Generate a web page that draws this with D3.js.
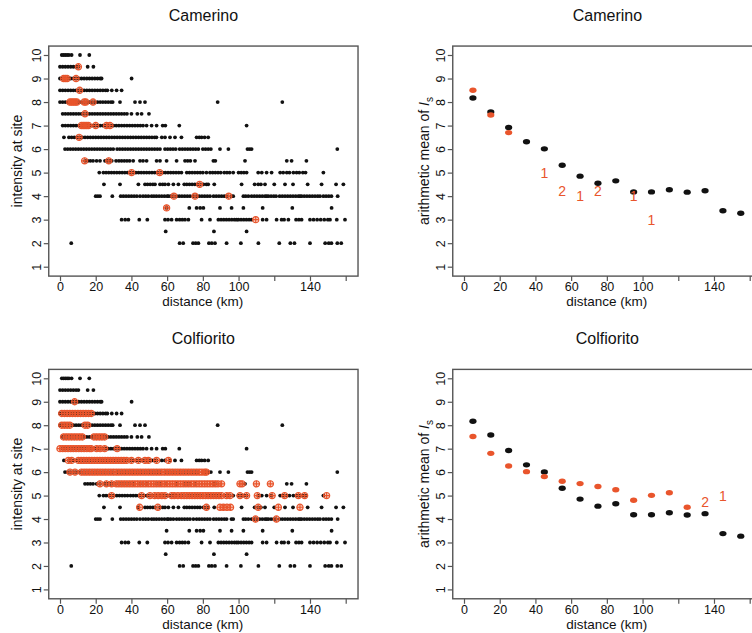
<!DOCTYPE html>
<html><head><meta charset="utf-8">
<script src="https://cdn.jsdelivr.net/npm/d3@7"></script>
<style>
body{margin:0;background:#fff;}
text{font-family:"Liberation Sans",Arial,Helvetica,sans-serif;fill:#111;}
</style>
</head><body>
<svg id="c" width="752" height="633"></svg>
<script>
// ---------------- DATA ----------------
const intensityTicks = [1,2,3,4,5,6,7,8,9,10];
const distanceTicks = [0,20,40,60,80,100,120,140,160];
const distanceLabels = ["0","20","40","60","80","100","","140",""];

// all observed sites: distances (km) per intensity level (black dots)
const sitesI10 = [1,2,3,4,5,6.5,11.2,16.4];
const sitesI9_5 = [0,1.5,3,4.5,6,7.5,9,10.3,15.5,18.7];
const sitesI9 = [0,1.5,3,4.5,6,7.5,9,10.5,12,13.5,15,16.5,18,19.5,21,22.5,23.3,40.1];
const sitesI8_5 = [0,1.5,3,4.5,6,7.5,9,10.5,12,13.5,15,16.5,18,19.5,21,22.5,24,25.5,26.5,29,31.7,34.5];
const sitesI8 = [0,1.5,3,4.5,6,7.5,9,10.5,12,13.5,15,16.5,18,19.5,21,22.5,24,25.5,27,28.5,29.5,33.6,42,44.8,47.6,88.3,124.5];
const sitesI7_5 = [1.5,3,4.5,6,7.5,9,10.5,12,13.5,15,16.5,18,19.5,21,22.5,24,25.5,27,28.5,30,31.5,33,34.5,36,37.5,40,43.3,45.7,49.8];
const sitesI7 = [1.5,3,4.5,6,7.5,9,10.5,12,13.5,15,16.5,18,19.5,21,22.5,24,25.5,27,28.5,30,31.5,33,34.5,36,37.5,39,40.5,42,43.5,45,46.5,48.5,51.3,54.1,57.5,59,66.8,104.5];
const sitesI6_5 = [2.2,5,6.5,8,9.5,11,12.5,14,15.5,17,18.5,20,21.5,23,24.5,26,27.5,29,30.5,32,33.5,35,36.5,38,39.5,41,42.5,44,45.5,47,48.5,50,51.5,53,54,57,58.8,61.6,64.4,68,76.5,78,79.3,81,83];
const sitesI6 = [2.8,4.3,5.8,7.3,8.8,10.3,11.8,13.3,14.8,16.3,17.8,19.3,20.8,22.3,23.8,25.3,26.8,28.3,29.8,32,33.5,35,36.5,38,39.5,41,42.5,44,45.5,47,48.5,50,51.5,53,54.5,56,58.8,60.3,61.8,63.3,64.8,67,68.5,70,71.5,73,74.5,76,77.5,80,81.5,83,84.5,89.6,94.3,105,106.2,107.3,155.3];
const sitesI5_5 = [14,15.5,17,18.5,20.5,22.4,25.2,26.5,28,29,31.4,33,34.5,36,37.5,39,41,44.8,46.5,48.5,54.1,56,59.7,65.3,70,71.5,73,75.6,85.9,87,103.6,127,129.7,138];
const sitesI5 = [22,24.3,25.8,27.3,28.8,30.3,31.8,33.3,34.8,36.3,37.8,39.5,41,42.5,44,45.5,47,48.5,50,51.5,53,54.5,56,57.5,59,60.5,62,63.5,65,66.5,68,71,72.5,74,75.5,77,78.5,80,82,84,85.5,87,88.5,90,92,93.5,95,97,100,101.5,103,104.5,111,113,115.7,118.5,123.3,125,127,128.5,130.7,132.5,134,136,137.5,147.5];
const sitesI4_5 = [24.6,33.6,43.9,47.6,49,50.5,52,53.2,56,57.5,58.8,60.7,63.5,66.3,69.6,71,72.5,74,75.5,77,78.4,80.3,82,83,86.4,101.7,109,111,112.5,114.8,120,126,130.5,138.7,146.5,154.6,158.7];
const sitesI4 = [20,21.2,22.4,29.3,34,35.5,37,38.5,40,41.5,43,44.8,46.5,48,49.5,51.3,52.6,54,55.5,57,58.5,60,60.7,62,63.5,65.3,66.8,68.3,69.8,71.3,72.8,74.7,76.5,78,79.5,81,82.5,84,86,87.5,89,90.5,92,93.3,96,97,102.7,104,105.5,107.3,108.8,110.3,111.8,113.3,114.8,115.7,116.7,118.2,119.7,121,123,124.5,126,127.5,129,130.5,132,133.5,134.4,135.3,136.8,138.3,139.8,141.3,142.8,144.3,145.6,147.5,149,150.5,152,155.5];
const sitesI3_5 = [59.7,72.4,76.5,78.5,80.3,89.6,96.1,102.7,113.5,130.1,152.1];
const sitesI3 = [34.5,36.5,38.3,44.4,48.9,58.8,60.5,62.5,65.3,67,68.5,70,71.9,79.3,84,88.7,90.2,91.7,93.2,94.7,96.2,97.7,98.9,99.9,101.4,102.9,104.4,105.9,107.3,113.5,115.7,121.3,124.1,125.5,127.9,132.2,133.8,135.3,140,142,144,146,148,150,151.2,155,159.6];
const sitesI2_5 = [59.2,86.2,104.5];
const sitesI2 = [6.3,67,69,74.5,76,77.5,83.4,85,86.8,93.3,101.3,111.1,122.8,129,131.3,140,148.5,150.5,152,155.3,157.5];

const levels = [10,9.5,9,8.5,8,7.5,7,6.5,6,5.5,5,4.5,4,3.5,3,2.5,2];
const siteRows = [sitesI10,sitesI9_5,sitesI9,sitesI8_5,sitesI8,sitesI7_5,sitesI7,sitesI6_5,sitesI6,sitesI5_5,sitesI5,sitesI4_5,sitesI4,sitesI3_5,sitesI3,sitesI2_5,sitesI2];

// Camerino event sites (red)
const camLevels = [9.5,9,8.5,8,7.5,7,6.5,5.5,5,4.5,4,3.5,3];
const camRows = [
  [10.3],
  [2,3,4,9],
  [11],
  [5.5,6.5,7.5,8.5,9.5,13.5,14.5,18.5],
  [14],
  [12,13,14,15,16,20,26,28],
  [10.7],
  [13.8,27.3],
  [40.1,55.8],
  [78.2],
  [63.8,75.6,94.5],
  [59.7],
  [109.6]
];

// Colfiorito event sites (red)
const colLevels = [9,8.5,8,7.5,7,6.5,6,5.5,5,4.5,4];
const colI9 = [8.2];
const colI8_5 = [1,2.5,4,5.5,7,8.5,10,11.5,13,14.5,16,17.5];
const colI8 = [1,2.5,4,5.5,14,15.5];
const colI7_5 = [2,3.5,5,6.5,8,9.5,11,12.5,19,20.5,22,23.5,25];
const colI7 = [0,1.5,3,4.5,6,7.5,9,10.5,12,13.5,15,16.5,17.5,20.5,22.5,25,32];
const colI6_5 = [4.7,6.5,10.3,11.8,13.3,14.8,16.3,17.8,19.3,20.8,22.3,23.8,25.3,26.8,28.3,29.8,31.3,32.8,34.3,35.8,37.3,40,43.9,47.6,49.5,54.1,60.7];
const colI6 = [5.6,8.4,12,13.5,15,16.5,18,19.5,21,22.5,24,25.5,27,28.5,30,31.5,33,34.5,36,37.5,39,40.5,42,43.5,45,46.5,48,49.5,51,52.5,54,55.5,57,58.5,60,61.5,63,64.5,66,67.5,69,70.5,72,73.5,75,76.5,78,79.5,81,82];
const colI5_5 = [22.4,26,28.9,31.5,33,34.5,36,37.5,39,40.5,42,43.5,45,46.5,48,49.5,51,52.5,54,55.5,57,58.5,60,61.5,63,64.5,66,67.5,69,70.5,72,73.5,75,76.5,78,79.5,81,82.5,84,85.5,87,88.5,90.5,100.8,102,110,117.8];
const colI5 = [28.9,45.7,50.4,53,55,57,58.8,62.5,64,66,68,69.5,71,72.5,74,75.5,77,78.5,80,81.5,83,84.5,86,87.5,89,90.5,93.3,95.2,100.8,104.5,110.5,118.8,125.8,133.5,137,149.3];
const colI4_5 = [44.6,54.8,82,89.6,91.5,93.5,95.5,111,122.3,134.4];
const colI4 = [109.5,121.2];
const colRows = [colI9,colI8_5,colI8,colI7_5,colI7,colI6_5,colI6,colI5_5,colI5,colI4_5,colI4];

// Arithmetic means per 10-km bin
const binCenters = [5,15,25,35,45,55,65,75,85,95,105,115,125,135,145,155];
const meanAll = [8.17,7.58,6.92,6.31,6.01,5.31,4.85,4.55,4.65,4.18,4.18,4.27,4.17,4.23,3.38,3.27];
const camMeanBins = [5,15,25];
const camMean = [8.5,7.45,6.7];
const camLabelBins = [45,55,65,75,95,105];
const camLabelVals = [4.98,4.23,3.99,4.23,3.99,2.99];
const camLabelText = ["1","2","1","2","1","1"];
const colMeanBins = [5,15,25,35,45,55,65,75,85,95,105,115,125];
const colMean = [7.52,6.8,6.26,6.02,5.81,5.61,5.51,5.39,5.25,4.80,5.01,5.12,4.50];
const colLabelBins = [135,145];
const colLabelVals = [4.74,5.0];
const colLabelText = ["2","1"];

// ---------------- DRAWING ----------------
const RED = "#e9552c";
const BLACK = "#111";
const AXIS = "#555";
const svg = d3.select("#c");

function makePanel(cfg){
  const x = d3.scaleLinear().domain([0,160]).range([cfg.x0, cfg.x0 + 285.7]);
  const y = d3.scaleLinear().domain([1,10]).range([cfg.y1, cfg.y10]);
  const box = {l: x(-6.3), r: x(166.9), t: y(10.38), b: y(0.6)};
  const g = svg.append("g");
  g.append("text").attr("x",(box.l+box.r)/2).attr("y",box.t-25)
    .attr("text-anchor","middle").style("font-size","16px").text(cfg.title);
  const xa = g.append("g").attr("transform",`translate(0,${box.b})`)
    .call(d3.axisBottom(x).tickValues(distanceTicks).tickSize(5).tickPadding(1.5)
      .tickFormat((d,i)=>distanceLabels[i]));
  xa.select(".domain").remove();
  xa.selectAll("line").attr("stroke",AXIS).attr("stroke-width",1.2);
  xa.selectAll("text").style("font-size","12.5px").attr("fill","#111");
  const ya = g.append("g").attr("transform",`translate(${box.l},0)`)
    .call(d3.axisLeft(y).tickValues(intensityTicks).tickSize(5).tickFormat(d3.format("d")));
  ya.select(".domain").remove();
  ya.selectAll("line").attr("stroke",AXIS).attr("stroke-width",1.2);
  ya.selectAll("text").style("font-size","12.5px").attr("fill","#111")
    .attr("x",null).attr("dy",null).attr("text-anchor","middle")
    .attr("transform","translate(-8,0) rotate(-90)");
  g.append("text").attr("x",(x(0)+x(160))/2).attr("y",box.b+30)
    .attr("text-anchor","middle").style("font-size","13.5px").text("distance (km)");
  const yt = g.append("text")
    .attr("transform",`translate(${box.l-cfg.ytOff},${(box.t+box.b)/2}) rotate(-90)`)
    .attr("text-anchor","middle").style("font-size","14px");
  if(cfg.meanLabel){
    yt.append("tspan").text("arithmetic mean of ");
    yt.append("tspan").style("font-style","italic").text("I");
    yt.append("tspan").attr("dy",4).style("font-size","10px").text("s");
  } else {
    yt.text("intensity at site");
  }
  const p = g.append("g");
  g.append("rect").attr("x",box.l).attr("y",box.t)
    .attr("width",box.r-box.l).attr("height",box.b-box.t)
    .attr("fill","none").attr("stroke",AXIS).attr("stroke-width",1.4);
  return {x, y, p, box};
}

function drawScatter(P, rowsRed, levelsRed){
  const pts = [];
  levels.forEach((lv,i)=>siteRows[i].forEach(d=>pts.push([d,lv])));
  P.p.selectAll("circle.b").data(pts).join("circle").attr("class","b")
    .attr("cx",d=>P.x(d[0])).attr("cy",d=>P.y(d[1])).attr("r",1.9).attr("fill",BLACK);
  const red = [];
  levelsRed.forEach((lv,i)=>rowsRed[i].forEach(d=>red.push([d,lv])));
  const rg = P.p.selectAll("g.r").data(red).join("g").attr("class","r")
    .attr("transform",d=>`translate(${P.x(d[0])},${P.y(d[1])})`);
  rg.append("circle").attr("r",3.1).attr("fill","rgba(233,85,44,0.3)")
    .attr("stroke",RED).attr("stroke-width",1.2);
  rg.append("path").attr("d","M-3.1,0H3.1M0,-3.1V3.1").attr("stroke",RED).attr("stroke-width",1.1);
}

function drawMeans(P, redBins, redVals, lblBins, lblVals, lblText){
  P.p.selectAll("ellipse.b").data(binCenters).join("ellipse").attr("class","b")
    .attr("cx",d=>P.x(d)).attr("cy",(d,i)=>P.y(meanAll[i])).attr("rx",3.6).attr("ry",2.7).attr("fill",BLACK);
  P.p.selectAll("ellipse.r").data(redBins).join("ellipse").attr("class","r")
    .attr("cx",d=>P.x(d)).attr("cy",(d,i)=>P.y(redVals[i])).attr("rx",3.6).attr("ry",2.7).attr("fill",RED);
  P.p.selectAll("text.l").data(lblBins).join("text").attr("class","l")
    .attr("x",d=>P.x(d)).attr("y",(d,i)=>P.y(lblVals[i])+5)
    .attr("text-anchor","middle").style("font-size","14px").style("fill",RED)
    .text((d,i)=>lblText[i]);
}

const TL = makePanel({title:"Camerino", x0:60, y1:266.7, y10:55, ytOff:27});
drawScatter(TL, camRows, camLevels);
const TR = makePanel({title:"Camerino", x0:464, y1:266.7, y10:55, ytOff:24, meanLabel:true});
drawMeans(TR, camMeanBins, camMean, camLabelBins, camLabelVals, camLabelText);
const BL = makePanel({title:"Colfiorito", x0:60, y1:589.4, y10:378.3, ytOff:27});
drawScatter(BL, colRows, colLevels);
const BR = makePanel({title:"Colfiorito", x0:464, y1:589.4, y10:378.3, ytOff:24, meanLabel:true});
drawMeans(BR, colMeanBins, colMean, colLabelBins, colLabelVals, colLabelText);
</script>
</body></html>
